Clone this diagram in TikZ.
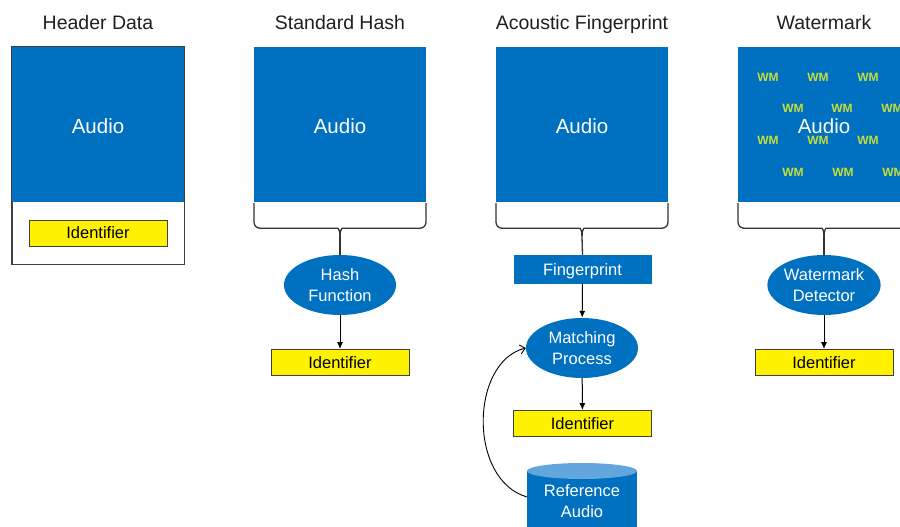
\documentclass[tikz,border=0pt]{standalone}
\usepackage{fontspec}
\setmainfont{Liberation Sans}
\usetikzlibrary{shapes.geometric,arrows.meta}
\definecolor{audioblue}{HTML}{0070C0}
\definecolor{wmyellow}{HTML}{C6DE3A}
\definecolor{reftop}{HTML}{62A6DD}
\definecolor{edge}{HTML}{404040}

\tikzset{
  pics/curlybrace/.style={code={
    \draw[brace, rounded corners=6pt] (-86,1) -- (-86,26) -- (-8,26) .. controls (-2,26) and (0,28) .. (0,34);
    \draw[brace, rounded corners=6pt] (86,1) -- (86,26) -- (8,26) .. controls (2,26) and (0,28) .. (0,34);
    \coordinate (-tip) at (0,34);
  }}
}

\begin{document}
\begin{tikzpicture}[x=1pt,y=-1pt,
  title/.style={font=\fontsize{19.5}{22}\selectfont, text=black!88, text depth=0pt},
  audiobox/.style={fill=audioblue, minimum width=172pt, minimum height=155pt, inner sep=0pt, text=white, text height=17pt, text depth=0pt, font=\fontsize{20.5}{24}\selectfont},
  idbox/.style={fill=yellow, draw=edge, line width=0.9pt, minimum width=138pt, minimum height=26pt, inner sep=0pt, font=\fontsize{16.5}{20}\selectfont},
  proc/.style={ellipse, fill=audioblue, minimum width=112pt, minimum height=60pt, inner sep=0pt, text=white, align=center, font=\fontsize{16.5}{20.5}\selectfont},
  brace/.style={draw=black!80, line width=1.3pt},
  flow/.style={draw=black, line width=1pt, -{Latex[length=7pt,width=6pt]}},
  loopback/.style={draw=black, line width=0.9pt, -{Straight Barb[length=5pt,width=9pt]}},
  wm/.style={text=wmyellow, font=\bfseries\fontsize{12}{14}\selectfont, inner sep=0pt}
]
\useasboundingbox (0,0) rectangle (900,527);
\clip (0,0) rectangle (900,527);

% column titles
\node[title] (t1) at (98,22) {Header Data};
\node[title] (t2) at (340,22) {Standard Hash};
\node[title] (t3) at (582,22) {Acoustic Fingerprint};
\node[title] (t4) at (824,22) {Watermark};

% header data: identifier stored next to the audio
\node[draw=edge, line width=1pt, minimum width=172pt, minimum height=217pt, inner sep=0pt] (hdframe) at (98,155.5) {};
\node[audiobox] (hdaudio) at (98,124.5) {Audio};
\draw[edge, line width=1pt] (hdframe.north west) rectangle (hdframe.south east);
\node[idbox] (hdid) at (98,233) {Identifier};

% standard hash
\node[audiobox] (shaudio) at (340,124.5) {Audio};
\pic (shb) at (shaudio.south) {curlybrace};
\node[proc] (hash) at (340,285) {Hash\\Function};
\node[idbox] (shid) at (340,362.5) {Identifier};
\draw[brace] (shb-tip) -- (hash.north);
\draw[flow] (hash) -- (shid);

% acoustic fingerprint
\node[audiobox] (afaudio) at (582,124.5) {Audio};
\pic (afb) at (afaudio.south) {curlybrace};
\node[fill=audioblue, minimum width=138pt, minimum height=29pt, inner sep=0pt, text=white, text depth=0pt, font=\fontsize{16.5}{20}\selectfont] (fp) at (582.5,269.5) {Fingerprint};
\node[proc] (match) at (582,348) {Matching\\Process};
\node[idbox] (afid) at (582.5,423.5) {Identifier};
\draw[brace] (afb-tip) -- (fp.north);
\draw[flow] (fp) -- (match);
\draw[flow] (match) -- (afid);

% reference audio database
\fill[audioblue] (527,471) rectangle (637,540);
\fill[reftop] (582,471) ellipse [x radius=55, y radius=8];
\node[text=white, align=center, font=\fontsize{16.5}{21}\selectfont] (ref) at (582,501) {Reference\\Audio};
\coordinate (refside) at (527,497);
\draw[loopback] (refside) .. controls (468,480) and (470,362) .. (match.west);

% watermark
\node[audiobox] (wmaudio) at (824,124.5) {Audio};
\foreach \x/\y [count=\i] in {768/77, 818/77, 868/77, 793/108, 842/108, 892/108,
                              768/140, 818/140, 868/140, 793/172, 843/172, 893/172}
  \node[wm] (wm\i) at (\x,\y) {WM};
\pic (wmb) at (wmaudio.south) {curlybrace};
\node[proc] (detect) at (824,285) {Watermark\\Detector};
\node[idbox] (wmid) at (824,362.5) {Identifier};
\draw[brace] (wmb-tip) -- (detect.north);
\draw[flow] (detect) -- (wmid);
\end{tikzpicture}
\end{document}
